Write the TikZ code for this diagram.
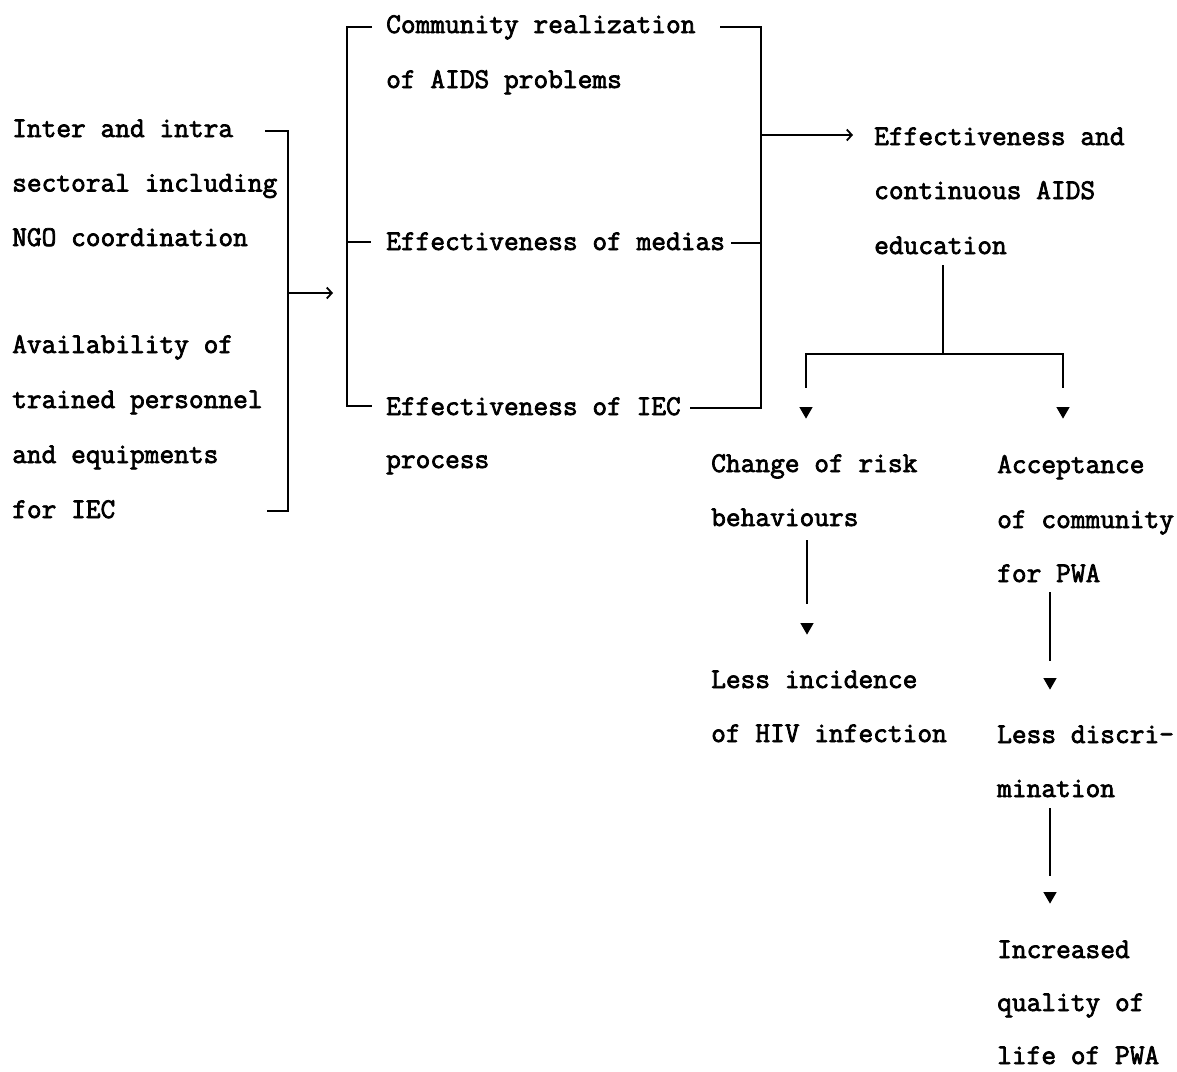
\documentclass[tikz,border=0pt]{standalone}
\usepackage{fontspec}
\usetikzlibrary{arrows.meta,calc,shapes.geometric}
\newfontfamily\typewr{Latin Modern Mono}[FakeBold=2.5]
\begin{document}
\begin{tikzpicture}[x=1pt,y=-1pt,
  txt/.style={anchor=base west,inner sep=0pt,font=\typewr\fontsize{28.6}{54}\selectfont},
  rule/.style={line width=2.2pt},
  feed/.style={line width=1.4pt,-{Straight Barb[length=5pt,width=11pt,line width=1.8pt]}},
  vtip/.style={regular polygon,regular polygon sides=3,shape border rotate=180,
    minimum size=12pt,inner sep=0pt,draw,line width=1.6pt,fill=black}]
\useasboundingbox (0,0) rectangle (1177,1071);

% left column: inputs
\node[txt] (l1) at (12,137) {Inter and intra};
\node[txt] (l2) at (12,191.5) {sectoral including};
\node[txt] (l3) at (12,246) {NGO coordination};
\node[txt] (l4) at (12,353) {Availability of};
\node[txt] (l5) at (12,408) {trained personnel};
\node[txt] (l6) at (12,463) {and equipments};
\node[txt] (l7) at (12,518) {for IEC};

% middle column
\node[txt] (m1) at (386,33) {Community realization};
\node[txt] (m2) at (386,88) {of AIDS problems};
\node[txt] (m3) at (386,250) {Effectiveness of medias};
\node[txt] (m4) at (386,415) {Effectiveness of IEC};
\node[txt] (m5) at (386,468) {process};

% right column
\node[txt] (r1) at (874,145) {Effectiveness and};
\node[txt] (r2) at (874,199) {continuous AIDS};
\node[txt] (r3) at (874,254) {education};

\node[txt] (c1) at (711,472) {Change of risk};
\node[txt] (c2) at (711,526) {behaviours};
\node[txt] (d1) at (711,688) {Less incidence};
\node[txt] (d2) at (711,742) {of HIV infection};

\node[txt] (a1) at (997,473) {Acceptance};
\node[txt] (a2) at (997,528) {of community};
\node[txt] (a3) at (997,582) {for PWA};
\node[txt] (e1) at (997,743) {Less discri-};
\node[txt] (e2) at (997,797) {mination};
\node[txt] (q1) at (997,958) {Increased};
\node[txt] (q2) at (997,1011) {quality of};
\node[txt] (q3) at (997,1064) {life of PWA};

% left bracket and arrow into the middle column
\coordinate (lbT) at (265,131);
\coordinate (lbB) at (267,511);
\coordinate (lbM) at (288,293);
\coordinate (mIn) at (333,293);
\draw[rule] (lbT) -- (288,131) -- (288,511) -- (lbB);
\draw[feed] (lbM) -- (mIn);

% middle brackets
\draw[rule] (372,27) -- (347,27) -- (347,406) -- (372,406);
\draw[rule] (347,242) -- (371,242);
\draw[rule] (720,27) -- (761,27) -- (761,408) -- (690,408);
\draw[rule] (731,243) -- (761,243);
\coordinate (mbR) at (761,135);
\coordinate (rIn) at (853,135);
\draw[feed] (mbR) -- (rIn);

% split below the education box
\node[vtip] (t1) at (806,411) {};
\node[vtip] (t2) at (1063,411) {};
\coordinate (stemTop) at (943,265);
\coordinate (split) at (943,354);
\draw[rule] (stemTop) -- (split);
\draw[rule] (split) -| ($(t1)+(0,-23)$);
\draw[rule] (split) -| ($(t2)+(0,-23)$);

% chains below
\node[vtip] (t3) at (807,627) {};
\node[vtip] (t4) at (1050,682) {};
\node[vtip] (t5) at (1050,896) {};
\draw[rule] (807,540) -- ($(t3)+(0,-23)$);
\draw[rule] (1050,592) -- ($(t4)+(0,-21)$);
\draw[rule] (1050,808) -- ($(t5)+(0,-20)$);
\end{tikzpicture}
\end{document}
